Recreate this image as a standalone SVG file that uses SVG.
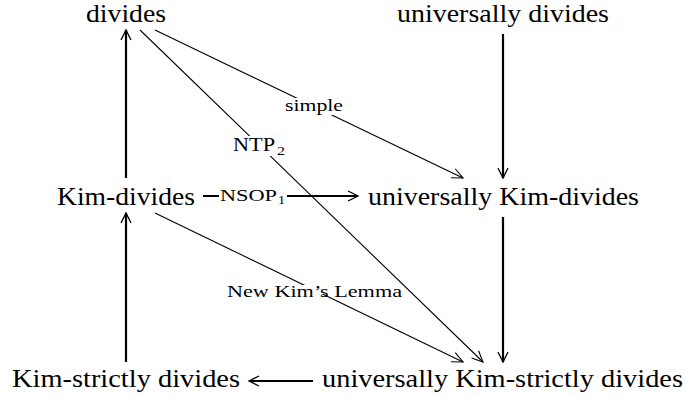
<svg xmlns="http://www.w3.org/2000/svg" width="687" height="396" viewBox="0 0 687 396">
<style>
.n{font-family:"Liberation Serif","Times New Roman",serif;font-size:26px;fill:#000}
.l{font-family:"Liberation Serif","Times New Roman",serif;font-size:17px;fill:#000}
.s{font-family:"Liberation Serif","Times New Roman",serif;font-size:12px;fill:#000}
.thick{stroke:#000;stroke-width:2.2;fill:none}
.thin{stroke:#000;stroke-width:1.1;fill:none}
.bg{fill:#fff}
</style>
<defs>
<marker id="ah" markerUnits="userSpaceOnUse" viewBox="-12 -6 14 12" refX="0" refY="0" markerWidth="14" markerHeight="12" orient="auto">
<path d="M -10 -5 L 0 0 L -10 5" fill="none" stroke="#000" stroke-width="1.3"/>
</marker>
<marker id="at" markerUnits="userSpaceOnUse" viewBox="-12 -6 14 12" refX="0" refY="0" markerWidth="14" markerHeight="12" orient="auto">
<path d="M -11 -5 L 0 0 L -11 5" fill="none" stroke="#000" stroke-width="1.1"/>
</marker>
</defs>
<g id="connectors">
<line class="thick" x1="126" y1="178" x2="126" y2="30" marker-end="url(#ah)"/>
<line class="thick" x1="126" y1="362" x2="126" y2="213" marker-end="url(#ah)"/>
<line class="thick" x1="503" y1="34" x2="503" y2="178" marker-end="url(#ah)"/>
<line class="thick" x1="503" y1="217" x2="503" y2="362" marker-end="url(#ah)"/>
<line class="thick" x1="313" y1="381" x2="249" y2="381" marker-end="url(#ah)"/>
<line class="thick" x1="203" y1="196" x2="358" y2="196" marker-end="url(#ah)"/>
<line class="thin" x1="155" y1="30" x2="463" y2="178" marker-end="url(#at)"/>
<line class="thin" x1="140" y1="30" x2="483" y2="362" marker-end="url(#at)"/>
<line class="thin" x1="155" y1="213" x2="463" y2="362" marker-end="url(#at)"/>
<g id="label-nsop">
<rect class="bg" x="219" y="186" width="68" height="20"/>
<text class="l" x="220" y="201" textLength="57" lengthAdjust="spacingAndGlyphs" style="font-size:16px">NSOP</text>
<text class="s" x="278" y="204" textLength="7" lengthAdjust="spacingAndGlyphs">1</text>
</g>
<g id="label-simple">
<rect class="bg" x="286" y="98" width="56" height="17"/>
<text class="l" x="285" y="111" textLength="58" lengthAdjust="spacingAndGlyphs">simple</text>
</g>
<g id="label-ntp">
<rect class="bg" x="234" y="136" width="52" height="20"/>
<text class="l" x="233" y="151" textLength="42" lengthAdjust="spacingAndGlyphs" style="font-size:18px">NTP</text>
<text class="s" x="277" y="155" textLength="8" lengthAdjust="spacingAndGlyphs">2</text>
</g>
<g id="label-lemma">
<rect class="bg" x="228" y="285" width="172" height="9"/>
<text class="l" x="227" y="297" textLength="175" lengthAdjust="spacingAndGlyphs">New Kim’s Lemma</text>
</g>
</g>
<g id="n-divides"><text class="n" x="86" y="22" textLength="80" lengthAdjust="spacingAndGlyphs">divides</text></g>
<g id="n-udivides"><text class="n" x="397" y="22" textLength="212" lengthAdjust="spacingAndGlyphs">universally divides</text></g>
<g id="n-kimdivides"><text class="n" x="57" y="205" textLength="138" lengthAdjust="spacingAndGlyphs">Kim-divides</text></g>
<g id="n-ukimdivides"><text class="n" x="368" y="205" textLength="271" lengthAdjust="spacingAndGlyphs">universally Kim-divides</text></g>
<g id="n-kimstrictly"><text class="n" x="12" y="387" textLength="228" lengthAdjust="spacingAndGlyphs">Kim-strictly divides</text></g>
<g id="n-ukimstrictly"><text class="n" x="322" y="387" textLength="361" lengthAdjust="spacingAndGlyphs">universally Kim-strictly divides</text></g>
</svg>
